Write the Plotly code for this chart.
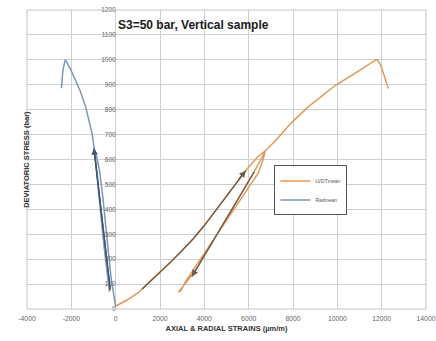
import plotly.graph_objects as go

# ---------------- data ----------------
# LVDTmean (axial) : loading, unloading loop, reloading, final loading
lvdt_x = [0, 500, 1000, 1500, 2000, 2500, 3000, 3500, 4000, 4500, 5000, 5500, 6000, 6400, 6750,
          6550, 6250, 5580, 4910, 4240, 3640, 3300, 3050, 2835,
          2950, 3150, 3750, 4500, 5250, 6000, 6430, 6650, 6750,
          7250, 7900, 8700, 9900, 10900, 11700, 11800, 11950, 12100, 12300]
lvdt_y = [12, 35, 65, 105, 148, 190, 235, 282, 335, 395, 455, 515, 570, 610, 635,
          600, 551, 450, 350, 250, 160, 120, 90, 68,
          75, 110, 190, 290, 390, 490, 545, 600, 635,
          679, 745, 812, 897, 952, 998, 1000, 980, 940, 885]

# Radmean (radial)
rad_x = [0, -100, -200, -330, -450, -580, -720, -850, -960,
         -900, -790, -650, -510, -400, -320, -280,
         -340, -450, -580, -700, -810, -900, -960,
         -1065, -1200, -1365, -1600, -1815, -2050, -2265, -2330, -2390, -2445]
rad_y = [10, 60, 120, 230, 340, 450, 550, 610, 640,
         580, 480, 360, 240, 150, 90, 70,
         110, 200, 310, 420, 520, 600, 640,
         705, 760, 815, 875, 920, 965, 1000, 980, 950, 886]

# hand-drawn direction arrows (overlay segments)
arrow_up_x = [1200, 1500, 2000, 2500, 3000, 3500, 4000, 4500, 5000, 5500, 5865]
arrow_up_y = [80, 105, 148, 190, 235, 282, 335, 395, 455, 515, 555]
arrow_down_x = [6255, 5580, 4910, 4240, 3640, 3435]
arrow_down_y = [551, 450, 350, 250, 160, 130]
arrow_rad_x = [-240, -980]
arrow_rad_y = [76, 645]

x_ticks = [-4000, -2000, 0, 2000, 4000, 6000, 8000, 10000, 12000, 14000]
x_labels = [str(v) for v in x_ticks]
y_ticks = list(range(0, 1300, 100))
y_labels = [str(v) for v in y_ticks]

ORANGE = "#E3995A"
BLUE = "#7f96b6"
DARK_BROWN = "#6a5848"
DARK_BLUE = "#3f5572"

fig = go.Figure()
fig.add_trace(go.Scatter(x=lvdt_x, y=lvdt_y, mode="lines", name="LVDTmean",
                         line=dict(color=ORANGE, width=1.5)))
fig.add_trace(go.Scatter(x=rad_x, y=rad_y, mode="lines", name="Radmean",
                         line=dict(color=BLUE, width=1.5)))
fig.add_trace(go.Scatter(x=arrow_up_x, y=arrow_up_y, mode="lines", showlegend=False,
                         line=dict(color=DARK_BROWN, width=1.3)))
fig.add_trace(go.Scatter(x=arrow_down_x, y=arrow_down_y, mode="lines", showlegend=False,
                         line=dict(color=DARK_BROWN, width=1.3)))
fig.add_trace(go.Scatter(x=arrow_rad_x, y=arrow_rad_y, mode="lines", showlegend=False,
                         line=dict(color=DARK_BLUE, width=1.3)))

# arrowheads
def head(xs, ys, color):
    fig.add_annotation(x=xs[-1], y=ys[-1], ax=xs[-2], ay=ys[-2], xref="x", yref="y",
                       axref="x", ayref="y", showarrow=True, arrowhead=2,
                       arrowsize=1, arrowwidth=1.3, arrowcolor=color, text="",
                       standoff=0)

head(arrow_up_x, arrow_up_y, DARK_BROWN)
head(arrow_down_x, arrow_down_y, DARK_BROWN)
head(arrow_rad_x, arrow_rad_y, DARK_BLUE)

# title inside plot
fig.add_annotation(x=0, y=1138, xref="x", yref="y", xanchor="left", yanchor="middle",
                   text="<b>S3=50 bar, Vertical sample</b>", showarrow=False,
                   font=dict(family="Liberation Sans, Arial", size=12, color="#1a1a1a"))
# y-axis title
fig.add_annotation(x=-0.018, y=0.5, xref="paper", yref="paper", textangle=-90,
                   text="<b>DEVIATORIC STRESS (bar)</b>", showarrow=False,
                   font=dict(family="Liberation Sans, Arial", size=7.5, color="#333"))

# plot border
fig.add_shape(type="rect", xref="x domain", yref="y domain", x0=0, x1=1, y0=0, y1=1,
              line=dict(color="#c4c4c4", width=1))

fig.update_layout(
    width=436, height=341,
    margin=dict(l=27, r=10, t=10, b=32, autoexpand=False),
    paper_bgcolor="white", plot_bgcolor="white",
    font=dict(family="Liberation Sans, Arial", color="#555"),
    xaxis=dict(range=[-4000, 14000], tickvals=x_ticks, ticktext=x_labels, showgrid=True,
               gridcolor="#cfcfcf", gridwidth=1, zeroline=False, showline=False,
               tickfont=dict(size=6.8, color="#666"), ticks="", ticklabelstandoff=4,
               ticklabeloverflow="allow", automargin=False,
               title=dict(text="<b>AXIAL & RADIAL STRAINS (µm/m)</b>", standoff=4,
                          font=dict(size=7.5, color="#333"))),
    yaxis=dict(range=[0, 1200], tickvals=y_ticks, ticktext=y_labels, showgrid=True,
               gridcolor="#cfcfcf", gridwidth=1, zeroline=False, showline=False,
               anchor="free", position=4000 / 18000, ticks="",
               ticklabeloverflow="allow", automargin=False,
               tickfont=dict(size=6.5, color="#666")),
    legend=dict(x=0.62, y=0.48, xanchor="left", yanchor="top",
                bgcolor="white", bordercolor="#555", borderwidth=1,
                font=dict(size=5, color="#555"), itemwidth=30,
                tracegroupgap=0),
    showlegend=True,
)

fig.write_html("out.html", config={"displayModeBar": False},
               post_script="document.body.style.margin='0';document.body.style.overflow='hidden';")
